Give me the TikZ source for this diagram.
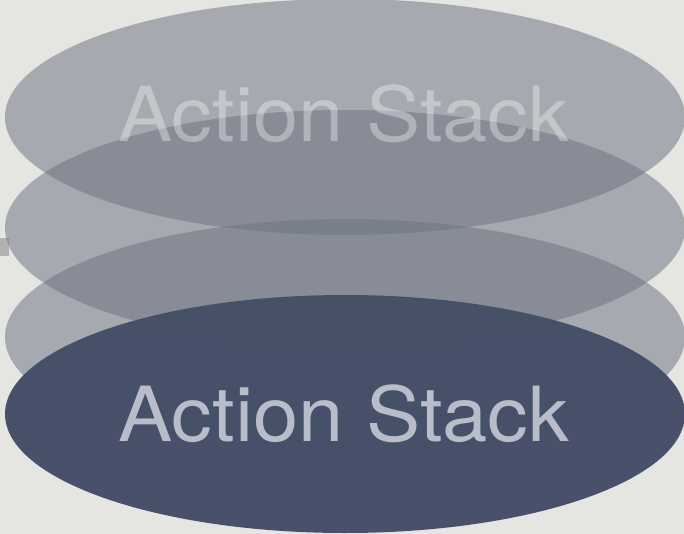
\documentclass[tikz,border=0pt]{standalone}
\usepackage{fontspec}
\setmainfont{TeX Gyre Heros}
\usetikzlibrary{positioning}
\usetikzlibrary{shapes.geometric}

\definecolor{paper}{RGB}{229,229,226}
\definecolor{disc}{RGB}{110,116,131}
\definecolor{discdark}{RGB}{69,79,103}
\definecolor{labelgray}{RGB}{184,189,201}

\begin{document}
\begin{tikzpicture}[x=1pt, y=-1pt,
  layer/.style={ellipse, inner sep=0pt, minimum width=680pt, minimum height=236pt,
    fill=disc, fill opacity=0.53},
  active/.style={layer, fill=discdark, fill opacity=0.98, minimum height=238pt},
  caption/.style={inner sep=0pt, anchor=base, xscale=1.07,
    font=\fontsize{76}{80}\selectfont}]

% page and paper
\useasboundingbox (0,0) rectangle (684,534);
\fill [paper] (0,0) rectangle (684,534);
\fill [gray!60] (0,238) rectangle (9,256);

% stacked layers
\node [layer] (top) at (345,117) {};
\node [layer] (mid1) at (345,228) {};
\node [layer] (mid2) at (345,337) {};

% faded title over the upper layers
\node [caption, text=white, text opacity=0.34] (toplabel) at (344,142) {Action Stack};

% active layer at the bottom
\node [active] (bottom) at (345,414) {};
\node [caption, text=labelgray] (bottomlabel) at (344,441) {Action Stack};

\end{tikzpicture}
\end{document}
